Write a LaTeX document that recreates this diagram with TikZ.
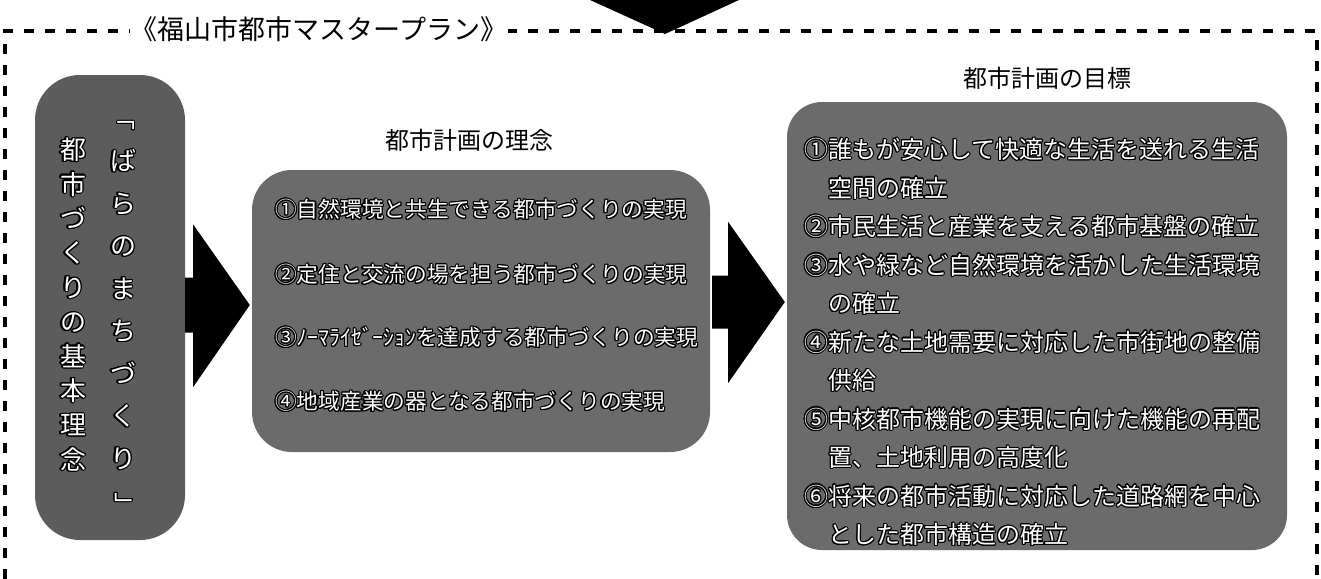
\documentclass[tikz,border=0pt]{standalone}
\usepackage{fontspec}
\setmainfont{Noto Sans CJK JP}
\usepackage[copies]{contour}
\contourlength{1.1pt}
\usetikzlibrary{calc}
\newcommand\ow[1]{\contour{black}{#1}}
\newcommand\vbr[1]{\rotatebox[origin=c]{-90}{\contour{black}{#1}}}
\begin{document}
\begin{tikzpicture}[x=1pt,y=-1pt,
  boxfill/.style={fill=black!58, inner sep=0pt},
  ttl/.style={font=\fontsize{24}{28}\selectfont, inner sep=0pt, text=black},
  midtxt/.style={anchor=west, inner sep=0pt, text=white, font=\fontsize{21.7}{26}\selectfont},
  rtxt/.style={anchor=west, inner sep=0pt, text=white, font=\fontsize{24}{28}\selectfont},
  frame/.style={line width=4.5pt, dash pattern=on 10pt off 11pt},
  blk/.style={fill=black}]
\useasboundingbox (0,0) rectangle (1321,578);
\clip (0,0) rectangle (1321,578);

% dashed frame
\coordinate (fbl) at (5,600);
\coordinate (ftl) at (5,31);
\coordinate (ftr) at (1317,31);
\coordinate (fbr) at (1317,600);
\draw[frame] (fbl) -- (ftl) -- (ftr) -- (fbr);
\node[font=\fontsize{27}{30}\selectfont, fill=white, inner sep=1pt] (T) at (319,29) {《福山市都市マスタープラン》};

% down arrow tip at top
\fill[blk] (590,0) -- (739,0) -- (665,34) -- cycle;

% boxes
\node[boxfill, fill=black!64, rounded corners=45pt, minimum width=150pt, minimum height=465pt] (L) at (110,307.5) {};
\node[boxfill, rounded corners=40pt, minimum width=458pt, minimum height=282pt] (M) at (481,311) {};
\node[boxfill, rounded corners=35pt, minimum width=500pt, minimum height=448pt] (R) at (1037,326) {};

% vertical texts in left box
\node[inner sep=0pt, align=center, text=white, font=\fontsize{26}{42.5}\selectfont] (Lc1) at (123,311.5)
  {\vbr{「}\\\ow{ば}\\\ow{ら}\\\ow{の}\\\ow{ま}\\\ow{ち}\\\ow{づ}\\\ow{く}\\\ow{り}\\\vbr{」}};
\node[inner sep=0pt, align=center, text=white, font=\fontsize{26}{34.4}\selectfont] (Lc2) at (73,305)
  {\ow{都}\\\ow{市}\\\ow{づ}\\\ow{く}\\\ow{り}\\\ow{の}\\\ow{基}\\\ow{本}\\\ow{理}\\\ow{念}};

% titles
\node[ttl] (Mt) at (469,140) {都市計画の理念};
\node[ttl] (Rt) at (1047,78) {都市計画の目標};

% middle box text
\node[midtxt] (m1) at (275,210) {\ow{①自然環境と共生できる都市づくりの実現}};
\node[midtxt] (m2) at (275,275) {\ow{②定住と交流の場を担う都市づくりの実現}};
\node[midtxt] (m3) at (275,338) {\ow{③ﾉｰﾏﾗｲｾﾞｰｼｮﾝを達成する都市づくりの実現}};
\node[midtxt] (m4) at (275,402) {\ow{④地域産業の器となる都市づくりの実現}};

% right box text
\node[rtxt] (r1) at (804,150) {\ow{①誰もが安心して快適な生活を送れる生活}};
\node[rtxt] (r2) at (828,188.5) {\ow{空間の確立}};
\node[rtxt] (r3) at (804,227) {\ow{②市民生活と産業を支える都市基盤の確立}};
\node[rtxt] (r4) at (804,265.5) {\ow{③水や緑など自然環境を活かした生活環境}};
\node[rtxt] (r5) at (828,304) {\ow{の確立}};
\node[rtxt] (r6) at (804,342.5) {\ow{④新たな土地需要に対応した市街地の整備}};
\node[rtxt] (r7) at (828,381) {\ow{供給}};
\node[rtxt] (r8) at (804,419.5) {\ow{⑤中核都市機能の実現に向けた機能の再配}};
\node[rtxt] (r9) at (828,458) {\ow{置、土地利用の高度化}};
\node[rtxt] (r10) at (804,496.5) {\ow{⑥将来の都市活動に対応した道路網を中心}};
\node[rtxt] (r11) at (828,535) {\ow{とした都市構造の確立}};

% block arrows between boxes
\path (L.east) ++(0,-2.5) coordinate (a1s);
\path (M.west) ++(-2,-6) coordinate (a1t);
\fill[blk] ($(a1s)+(0,-27.5)$) -- ++(8,0) -- ++(0,-53) -- (a1t) -- ($(a1s)+(8,82)$) -- ++(0,-54.5) -- ++(-8,0) -- cycle;
\path (M.east) ++(2,-9) coordinate (a2s);
\path (R.west) ++(-2,-24) coordinate (a2t);
\fill[blk] ($(a2s)+(0,-26.5)$) -- ++(16,0) -- ++(0,-53.5) -- (a2t) -- ($(a2s)+(16,81)$) -- ++(0,-54.5) -- ++(-16,0) -- cycle;
\end{tikzpicture}
\end{document}
